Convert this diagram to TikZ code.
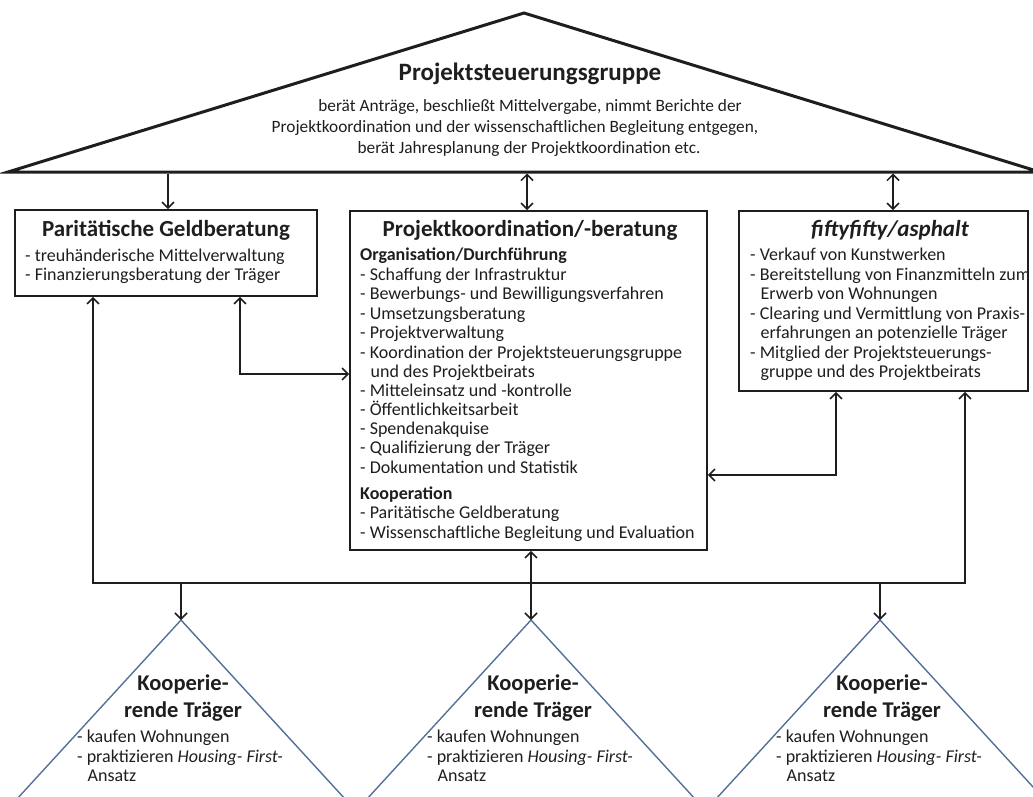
\documentclass[tikz,border=0pt]{standalone}
\usepackage{fontspec}
\setmainfont{Carlito}
\usetikzlibrary{arrows.meta}
\definecolor{trib}{RGB}{84,112,152}
\definecolor{ink}{RGB}{30,30,30}
\begin{document}
\begin{tikzpicture}[x=1pt,y=-1pt,
  >={Straight Barb[length=6pt,width=12pt]},
  conn/.style={line width=1.5pt, draw=ink},
  box/.style={draw=ink, line width=1.8pt, rectangle, inner sep=0pt},
  body/.style={font=\fontsize{18}{19}\selectfont, anchor=base west, inner sep=0pt, text=ink},
  head/.style={font=\bfseries\fontsize{18}{19}\selectfont, anchor=base west, inner sep=0pt, text=ink},
  btitle/.style={font=\bfseries\fontsize{23}{25}\selectfont, anchor=base, inner sep=0pt, text=ink},
  tbody/.style={font=\fontsize{17.3}{20}\selectfont, anchor=base, inner sep=0pt, text=ink},
  tri/.style={draw=trib, line width=1.4pt, line join=miter}
]
\useasboundingbox (0,0) rectangle (1033,796);
\clip (0,0) rectangle (1033,796);

% top triangle
\draw[line width=3pt, draw=ink, line join=miter] (8,172) -- (524,13) -- (1040,172) -- cycle;
\node[btitle, font=\bfseries\fontsize{25}{27}\selectfont] (tt) at (530,80) {Projektsteuerungsgruppe};
\node[tbody] (tb1) at (530,111) {berät Anträge, beschließt Mittelvergabe, nimmt Berichte der};
\node[tbody] (tb2) at (515,132) {Projektkoordination und der wissenschaftlichen Begleitung entgegen,};
\node[tbody] (tb3) at (529,153) {berät Jahresplanung der Projektkoordination etc.};

% boxes
\node[box, minimum width=302pt, minimum height=86pt] (pg) at (166,253) {};
\node[box, minimum width=357pt, minimum height=339pt] (pk) at (528.5,380.5) {};
\node[box, minimum width=289pt, minimum height=180pt] (ff) at (883.5,301) {};

% left box text
\node[btitle] (pgt) at (166,236) {Paritätische Geldberatung};
\node[body] (pg1) at (25,261.5) {- treuhänderische Mittelverwaltung};
\node[body] (pg2) at (25,280.5) {- Finanzierungsberatung der Träger};

% middle box text
\node[btitle] (pkt) at (530,236) {Projektkoordination/-beratung};
\node[head] (pkh1) at (360,260.5) {Organisation/Durchführung};
\foreach \i/\x/\y/\t in {
  1/360/280.5/{- Schaffung der Infrastruktur},
  2/360/299.5/{- Bewerbungs- und Bewilligungsverfahren},
  3/360/319.5/{- Umsetzungsberatung},
  4/360/338.5/{- Projektverwaltung},
  5/360/358.5/{- Koordination der Projektsteuerungsgruppe},
  6/370.5/377.5/{und des Projektbeirats},
  7/360/396.5/{- Mitteleinsatz und -kontrolle},
  8/360/415.5/{- Öffentlichkeitsarbeit},
  9/360/434.5/{- Spendenakquise},
  10/360/453.5/{- Qualifizierung der Träger},
  11/360/473.5/{- Dokumentation und Statistik}}
  \node[body] (pki\i) at (\x,\y) {\t};
\node[head] (pkh2) at (360,499.5) {Kooperation};
\node[body] (pkk1) at (360,518.5) {- Paritätische Geldberatung};
\node[body] (pkk2) at (360,538) {- Wissenschaftliche Begleitung und Evaluation};

% right box text
\node[btitle] (fft) at (890,236) {\itshape fiftyfifty/asphalt};
\foreach \i/\x/\y/\t in {
  1/750/260.5/{- Verkauf von Kunstwerken},
  2/750/280.5/{- Bereitstellung von Finanzmitteln zum},
  3/760.5/299.5/{Erwerb von Wohnungen},
  4/750/319.5/{- Clearing und Vermittlung von Praxis-},
  5/760.5/338.5/{erfahrungen an potenzielle Träger},
  6/750/358.5/{- Mitglied der Projektsteuerungs-},
  7/760.5/377.5/{gruppe und des Projektbeirats}}
  \node[body] (ffi\i) at (\x,\y) {\t};

% connectors from top triangle
\coordinate (t1) at (168,173.5);
\coordinate (t2) at (527,173.5);
\coordinate (t3) at (893,173.5);
\draw[conn,->] (t1) -- (t1 |- pg.north);
\draw[conn,<->] (t2) -- (t2 |- pk.north);
\draw[conn,<->] (t3) -- (t3 |- ff.north);

% side connectors
\coordinate (c1) at (240,374);
\coordinate (c2) at (836,475);
\draw[conn,<->] (c1 |- pg.south) -- (c1) -- (c1 -| pk.west);
\draw[conn,<->] (c2 -| pk.east) -- (c2) -- (c2 |- ff.south);

% bottom distribution line
\coordinate (b1) at (93,583);
\coordinate (b4) at (965,583);
\draw[conn,<->] (b1 |- pg.south) -- (b1) -- (b4) -- (b4 |- ff.south);

% bottom triangles
\foreach \n/\ax in {1/181, 2/531, 3/880} {
  \coordinate (a\n) at (\ax,620);
  \draw[tri] (a\n) ++(-176,192) -- (a\n) -- ++(176,192);
  \node[btitle, font=\bfseries\fontsize{22.5}{24}\selectfont] (kt\n) at (\ax+2,690) {Kooperie-};
  \node[btitle, font=\bfseries\fontsize{22.5}{24}\selectfont] (ku\n) at (\ax+2,717) {rende Träger};
  \node[body] (ki\n) at (\ax-104,742.5) {- kaufen Wohnungen};
  \node[body] (kj\n) at (\ax-104,762.5) {- praktizieren \textit{Housing- First-}};
  \node[body] (kk\n) at (\ax-93.5,781.5) {Ansatz};
}
\draw[conn,->] (a1 |- b1) -- (a1);
\draw[conn,<->] (a2 |- pk.south) -- (a2);
\draw[conn,->] (a3 |- b1) -- (a3);
\end{tikzpicture}
\end{document}
